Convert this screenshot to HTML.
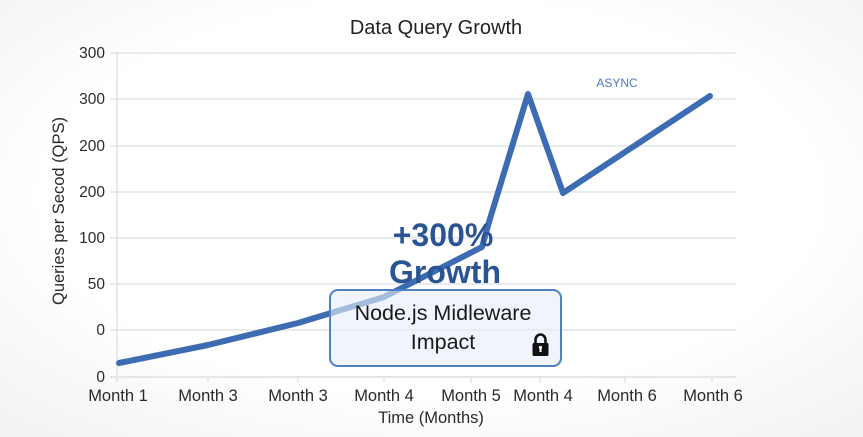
<!DOCTYPE html>
<html><head><meta charset="utf-8"><style>
html,body{margin:0;padding:0;background:#fdfdfd;}
svg{display:block;}
text{font-family:"Liberation Sans","DejaVu Sans",sans-serif;}
</style></head><body>
<svg width="863" height="437" viewBox="0 0 863 437" xmlns="http://www.w3.org/2000/svg">
<defs>
<radialGradient id="bg" cx="50%" cy="45%" r="75%">
<stop offset="0.6" stop-color="#ffffff"/>
<stop offset="1" stop-color="#f1f1f1"/>
</radialGradient>
</defs>
<rect width="863" height="437" fill="url(#bg)"/>
<text x="436" y="34" font-size="20" text-anchor="middle" fill="#222">Data Query Growth</text>
<g stroke="#e2e5e9" stroke-width="1.5">
<line x1="110" y1="53" x2="736" y2="53"/>
<line x1="110" y1="99" x2="736" y2="99"/>
<line x1="110" y1="146" x2="736" y2="146"/>
<line x1="110" y1="192" x2="736" y2="192"/>
<line x1="110" y1="238" x2="736" y2="238"/>
<line x1="110" y1="284" x2="736" y2="284"/>
<line x1="110" y1="330" x2="736" y2="330"/>
<line x1="110" y1="377" x2="736" y2="377" stroke="#dcdfe3"/>
<line x1="117" y1="53" x2="117" y2="382" stroke="#e0e3e7"/>
<line x1="208" y1="377" x2="208" y2="383"/>
<line x1="298" y1="377" x2="298" y2="383"/>
<line x1="384" y1="377" x2="384" y2="383"/>
<line x1="471" y1="377" x2="471" y2="383"/>
<line x1="540" y1="377" x2="540" y2="383"/>
<line x1="625" y1="377" x2="625" y2="383"/>
<line x1="712" y1="377" x2="712" y2="383"/>
</g>
<g font-size="15.5" fill="#2a2a2a" text-anchor="end">
<text x="105" y="58">300</text>
<text x="105" y="104">300</text>
<text x="105" y="151">200</text>
<text x="105" y="197">200</text>
<text x="105" y="243">100</text>
<text x="105" y="289">50</text>
<text x="105" y="335">0</text>
<text x="105" y="382">0</text>
</g>
<g font-size="16.5" fill="#2a2a2a" text-anchor="middle">
<text x="118" y="401">Month 1</text>
<text x="208" y="401">Month 3</text>
<text x="298" y="401">Month 3</text>
<text x="384" y="401">Month 4</text>
<text x="471" y="401">Month 5</text>
<text x="543" y="401">Month 4</text>
<text x="627" y="401">Month 6</text>
<text x="713" y="401">Month 6</text>
</g>
<text x="431" y="423" font-size="16.5" fill="#2a2a2a" text-anchor="middle">Time (Months)</text>
<text transform="translate(64,211) rotate(-90)" font-size="16.5" fill="#2a2a2a" text-anchor="middle">Queries per Secod (QPS)</text>
<text x="617" y="87" font-size="12" fill="#4a7cc4" text-anchor="middle">ASYNC</text>
<polyline points="119,363 208,345 298,323 384,297 482,247 489,222 528,94 563,193 710,96" fill="none" stroke="#3d6cb2" stroke-width="6" stroke-linejoin="round" stroke-linecap="round"/>
<text x="443" y="246" font-size="32" font-weight="bold" fill="#2a5494" text-anchor="middle">+300%</text>
<text x="445" y="283" font-size="32" font-weight="bold" fill="#2a5494" text-anchor="middle">Growth</text>
<rect x="330" y="290" width="231" height="76" rx="8" ry="8" fill="#e6eefa" fill-opacity="0.62" stroke="#4f80c6" stroke-width="2"/>
<text x="443" y="320" font-size="21.5" fill="#1a1a1a" text-anchor="middle">Node.js Midleware</text>
<text x="443" y="349" font-size="21.5" fill="#1a1a1a" text-anchor="middle">Impact</text>
<g transform="translate(532,334)">
<path d="M3.5 9 V6 a5 5.5 0 0 1 10 0 V9" fill="none" stroke="#111" stroke-width="2.6"/>
<rect x="0.5" y="9" width="16" height="13" rx="1.5" fill="#111"/>
<rect x="7.5" y="13" width="2" height="5" fill="#fff"/>
<circle cx="8.5" cy="13.5" r="1.6" fill="#fff"/>
</g>
</svg>
</body></html>
